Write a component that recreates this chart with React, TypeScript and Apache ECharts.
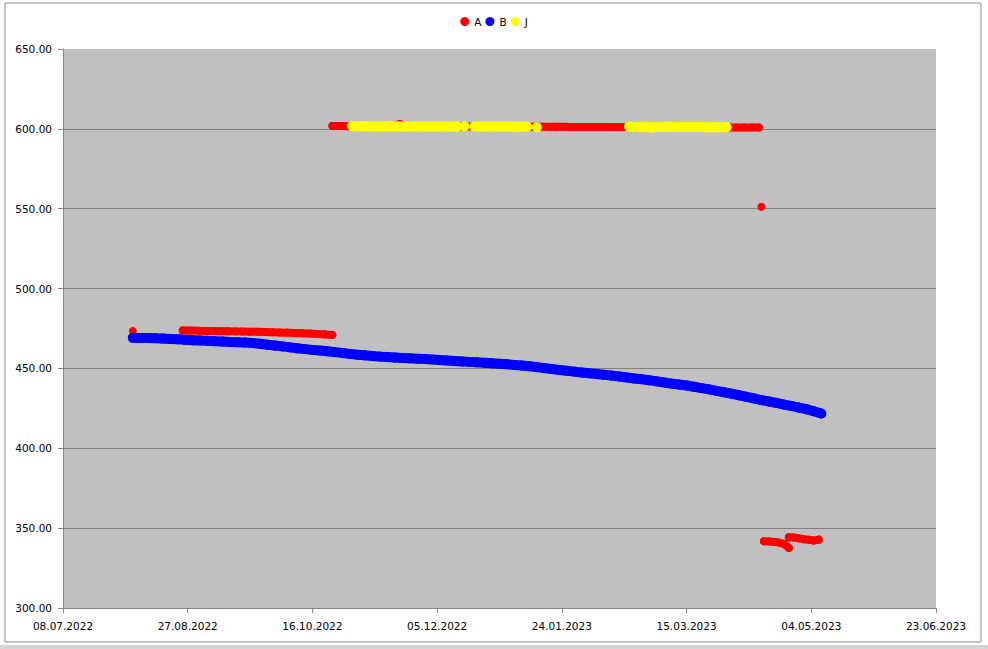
import React, { useEffect, useRef } from "react";
import * as echarts from "echarts";

const DAY = 86400000;
const BASE = Date.UTC(2022, 6, 8);

const xTickCount = 7;
const xStepDays = 50;
const yMin = 300;
const yMax = 650;
const yStep = 50;

const seriesNames = ["A", "B", "J"];
const seriesColors = ["#FF0000", "#0000FF", "#FFFF00"];

// Series A (red)
const aPoint1Date = "2022-08-05";
const aPoint1Value = 473.4;
const aSeg1Start = "2022-08-25";
const aSeg1Values = [
  473.8, 473.7, 473.6, 473.5, 473.4, 473.3, 473.3, 473.2, 473.1, 473.0,
  472.9, 472.8, 472.6, 472.5, 472.4, 472.2, 472.0, 471.8, 471.6, 471.3,
  471.0,
];
const aTopStart = "2022-10-24";
const aTopValues = [
  601.8, 601.8, 601.7, 601.7, 601.7, 601.6, 601.6, 601.6, 601.6, 603.0,
  601.6, 601.6, 601.5, 601.5, 601.5, 601.5, 601.5, 601.5, 601.4, 601.4,
  601.4, 601.4, 601.4, 601.4, 601.4, 601.3, 601.3, 601.3, 601.3, 601.3,
  601.3, 601.3, 601.2, 601.2, 601.2, 601.2, 601.2, 601.2, 601.1, 601.1,
  601.1, 601.1, 601.1, 601.1, 601.1, 601.0, 601.0, 601.0, 601.0, 601.0,
  601.0, 601.0, 600.9, 600.9, 600.9, 600.9, 600.9, 600.9,
];
const aPoint2Date = "2023-04-14";
const aPoint2Value = 551.2;
const aLow1Start = "2023-04-15";
const aLow1Values = [341.8, 341.7, 341.4, 341.0, 340.2, 337.6];
const aLow2Start = "2023-04-25";
const aLow2Values = [344.3, 344.1, 343.6, 343.1, 342.7, 342.3, 342.8];

// Series B (blue)
const bStart = "2022-08-05";
const bValues = [
  469.2, 469.1, 469.0, 468.9, 468.7, 468.5, 468.2, 467.9, 467.7, 467.5,
  467.3, 467.0, 466.8, 466.6, 466.4, 466.2, 465.9, 465.4, 464.8, 464.3,
  463.8, 463.2, 462.6, 462.1, 461.6, 461.2, 460.7, 460.2, 459.7, 459.1,
  458.6, 458.2, 457.8, 457.4, 457.1, 456.8, 456.5, 456.3, 456.1, 455.9,
  455.6, 455.3, 455.0, 454.7, 454.4, 454.1, 453.8, 453.5, 453.2, 452.9,
  452.6, 452.2, 451.8, 451.4, 450.8, 450.2, 449.6, 449.0, 448.5, 448.0,
  447.5, 447.0, 446.5, 446.0, 445.5, 444.9, 444.3, 443.7, 443.2, 442.6,
  441.9, 441.2, 440.5, 439.9, 439.3, 438.5, 437.7, 436.9, 436.0, 435.1,
  434.2, 433.2, 432.2, 431.2, 430.2, 429.3, 428.4, 427.4, 426.5, 425.5,
  424.5, 423.2, 421.8,
];

// Series J (yellow)
const jSeg1Start = "2022-11-01";
const jSeg1Values = [
  601.8, 601.6, 601.6, 601.5, 601.5, 601.6, 601.5, 601.4, 601.5, 601.5,
  601.4, 601.4, 601.5, 601.4, 601.4,
];
const jPoint1Date = "2022-12-16";
const jPoint1Value = 601.6;
const jSeg2Start = "2022-12-20";
const jSeg2Values = [601.5, 601.4, 601.5, 601.4, 601.4, 601.5, 601.3, 601.4];
const jPoint2Date = "2023-01-14";
const jPoint2Value = 601.0;
const jSeg3Start = "2023-02-20";
const jSeg3Values = [
  601.4, 601.2, 601.3, 600.9, 601.2, 601.3, 601.2, 601.1, 601.2, 601.1,
  601.0, 601.0, 601.0, 601.0,
];

function dayOf(s: string): number {
  const [y, m, d] = s.split("-").map(Number);
  return (Date.UTC(y, m - 1, d) - BASE) / DAY;
}
function seq(start: string, step: number, values: number[]): any[][] {
  const d0 = dayOf(start);
  return values.map((v, i) => [d0 + i * step, v]);
}
function joinSegments(segs: any[][][]): any[][] {
  const out: any[][] = [];
  segs.forEach((s, i) => {
    if (i > 0) out.push([s[0][0], "-"]);
    out.push(...s);
  });
  return out;
}
function pad(n: number) {
  return n < 10 ? "0" + n : "" + n;
}
function fmtDay(d: number): string {
  const dt = new Date(BASE + Math.round(d) * DAY);
  return pad(dt.getUTCDate()) + "." + pad(dt.getUTCMonth() + 1) + "." + dt.getUTCFullYear();
}

const FONT = "DejaVu Sans";

export default function App() {
  const ref = useRef<HTMLDivElement>(null);
  useEffect(() => {
    if (!ref.current) return;
    const chart = echarts.init(ref.current, undefined, { renderer: "svg" });
    const aData = joinSegments([
      [[dayOf(aPoint1Date), aPoint1Value]],
      seq(aSeg1Start, 3, aSeg1Values),
      seq(aTopStart, 3, aTopValues),
      [[dayOf(aPoint2Date), aPoint2Value]],
      seq(aLow1Start, 2, aLow1Values),
      seq(aLow2Start, 2, aLow2Values),
    ]);
    const bData = seq(bStart, 3, bValues);
    const jData = joinSegments([
      seq(jSeg1Start, 3, jSeg1Values),
      [[dayOf(jPoint1Date), jPoint1Value]],
      seq(jSeg2Start, 3, jSeg2Values),
      [[dayOf(jPoint2Date), jPoint2Value]],
      seq(jSeg3Start, 3, jSeg3Values),
    ]);
    const datas = [aData, bData, jData];
    const sizes = [8, 10, 10];
    const nLines = (yMax - yMin) / yStep + 1;
    const splitColors: string[] = [];
    for (let i = 0; i < nLines; i++) splitColors.push(i === nLines - 1 ? "#C0C0C0" : "#808080");

    chart.setOption({
      animation: false,
      backgroundColor: "#FFFFFF",
      textStyle: { fontFamily: FONT },
      graphic: [
        {
          type: "rect",
          shape: { x: 5, y: 3, width: 976, height: 639 },
          style: { fill: "none", stroke: "#8C8C8C", lineWidth: 1 },
          silent: true,
        },
        {
          type: "rect",
          shape: { x: 0, y: 645, width: 988, height: 4 },
          style: { fill: "#D4D4D4" },
          silent: true,
        },
      ],
      legend: {
        top: 11,
        left: "center",
        icon: "circle",
        itemWidth: 9,
        itemHeight: 9,
        itemGap: 4,
        textStyle: { fontFamily: FONT, fontSize: 10.5, color: "#000" },
        data: seriesNames,
      },
      grid: {
        left: 63,
        right: 52,
        top: 49,
        bottom: 41,
        show: true,
        backgroundColor: "#C0C0C0",
        borderWidth: 0,
      },
      xAxis: {
        type: "value",
        min: 0,
        max: xTickCount * xStepDays,
        interval: xStepDays,
        axisLine: { show: true, lineStyle: { color: "#868686", width: 1 } },
        axisTick: { show: true, length: 5, lineStyle: { color: "#868686" } },
        splitLine: { show: false },
        axisLabel: {
          formatter: (v: number) => fmtDay(v),
          fontFamily: FONT,
          fontSize: 10.5,
          color: "#000",
          margin: 12,
          showMinLabel: true,
          showMaxLabel: true,
        },
      },
      yAxis: {
        type: "value",
        min: yMin,
        max: yMax,
        interval: yStep,
        axisLine: { show: true, lineStyle: { color: "#868686", width: 1 } },
        axisTick: { show: true, length: 5, lineStyle: { color: "#868686" } },
        splitLine: { show: true, lineStyle: { color: splitColors, width: 1 } },
        axisLabel: {
          formatter: (v: number) => v.toFixed(2),
          fontFamily: FONT,
          fontSize: 10.5,
          color: "#000",
          margin: 11,
        },
      },
      series: seriesNames.map((name, i) => ({
        name,
        type: "line",
        z: 3 + i,
        data: datas[i],
        symbol: "circle",
        symbolSize: sizes[i],
        showSymbol: true,
        showAllSymbol: true,
        connectNulls: false,
        smooth: false,
        lineStyle: { color: seriesColors[i], width: sizes[i], cap: "round", join: "round" },
        itemStyle: { color: seriesColors[i], borderWidth: 0, opacity: 1 },
        emphasis: { disabled: true },
      })),
    });
    return () => chart.dispose();
  }, []);
  return (
    <div
      ref={ref}
      style={{ position: "fixed", left: 0, top: 0, width: 988, height: 649 }}
    />
  );
}
